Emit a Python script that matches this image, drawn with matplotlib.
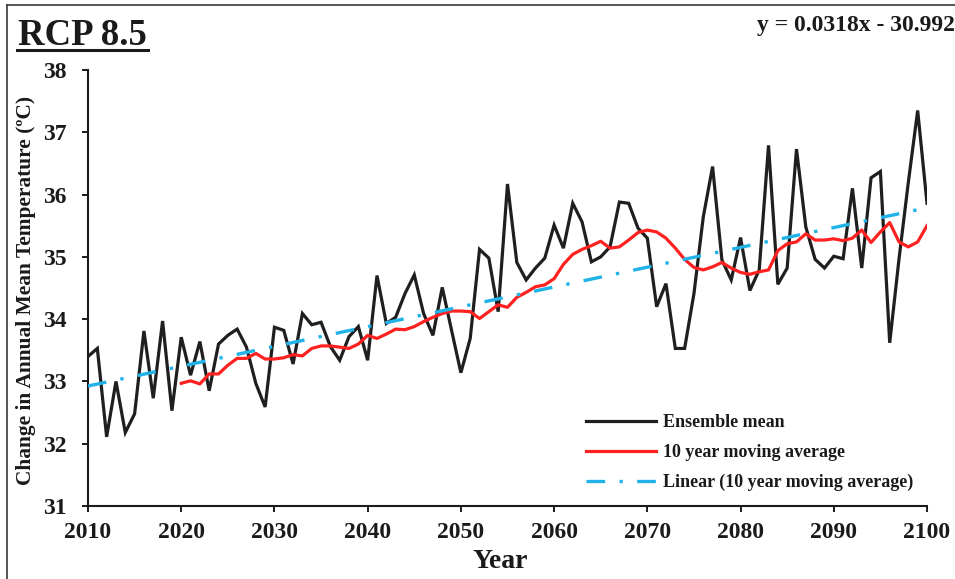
import numpy as np
import matplotlib
matplotlib.use("Agg")
import matplotlib.pyplot as plt
from matplotlib.lines import Line2D

# ---- data -------------------------------------------------------------
years = np.arange(2010, 2101)

ensemble_mean = [
    33.40, 33.53, 32.11, 33.00, 32.18, 32.48, 33.81, 32.73, 33.97, 32.53,
    33.71, 33.10, 33.64, 32.85, 33.60, 33.74, 33.84, 33.55, 32.97, 32.59,
    33.87, 33.82, 33.28, 34.09, 33.91, 33.95, 33.56, 33.34, 33.72, 33.88,
    33.34, 34.70, 33.93, 34.03, 34.41, 34.71, 34.09, 33.74, 34.51, 33.82,
    33.14, 33.69, 35.12, 34.98, 34.12, 36.17, 34.91, 34.63, 34.82, 34.98,
    35.51, 35.14, 35.86, 35.56, 34.92, 35.00, 35.16, 35.88, 35.86, 35.46,
    35.30, 34.20, 34.57, 33.53, 33.53, 34.41, 35.64, 36.45, 34.95, 34.63,
    35.31, 34.46, 34.79, 36.79, 34.56, 34.82, 36.73, 35.48, 34.96, 34.82,
    35.01, 34.97, 36.10, 34.82, 36.27, 36.37, 33.62, 34.97, 36.20, 37.35,
    35.86,
]

ma_years = np.arange(2020, 2101)
moving_avg = [
    32.97, 33.01, 32.96, 33.12, 33.12, 33.26, 33.37, 33.37, 33.45, 33.36,
    33.36, 33.38, 33.43, 33.41, 33.53, 33.57, 33.57, 33.55, 33.53, 33.60,
    33.74, 33.69, 33.76, 33.84, 33.83, 33.88, 33.96, 34.03, 34.09, 34.13,
    34.13, 34.12, 34.01, 34.12, 34.23, 34.19, 34.35, 34.43, 34.52, 34.55,
    34.65, 34.88, 35.04, 35.12, 35.18, 35.25, 35.14, 35.16, 35.27, 35.39,
    35.43, 35.40, 35.30, 35.14, 34.96, 34.83, 34.79, 34.84, 34.91, 34.82,
    34.75, 34.72, 34.76, 34.79, 35.10, 35.21, 35.24, 35.37, 35.27, 35.27,
    35.29, 35.26, 35.30, 35.43, 35.23, 35.40, 35.55, 35.24, 35.16, 35.24,
    35.50,
]

trend_slope = 0.0318
trend_intercept = -30.992

x_ticks = [2010, 2020, 2030, 2040, 2050, 2060, 2070, 2080, 2090, 2100]
y_ticks = [31, 32, 33, 34, 35, 36, 37, 38]

# ---- figure -----------------------------------------------------------
W, H = 955, 579
fig = plt.figure(figsize=(W / 100, H / 100), dpi=100)
serif = ["Liberation Serif", "DejaVu Serif"]
plt.rcParams["font.family"] = serif

ax = fig.add_axes([88 / W, 1 - 506 / H, (927 - 88) / W, (506 - 70) / H])
ax.set_facecolor("none")

ax.plot(years, ensemble_mean, color="#1f1f1f", lw=2.3,
        solid_joinstyle="miter", label="Ensemble mean", zorder=3)
ax.plot(ma_years, moving_avg, color="#ff2020", lw=2.3,
        label="10 year moving average", zorder=4)
trend = trend_slope * years + trend_intercept
ax.plot(years, trend, color="#21b2e8", lw=2.4,
        linestyle=(0, (5.6, 4.3, 1.0, 4.3)),
        label="Linear (10 year moving average)", zorder=5)

ax.set_xlim(2010, 2100)
ax.set_ylim(31, 38)
ax.set_xticks(x_ticks)
ax.set_yticks(y_ticks)

for side in ("top", "right"):
    ax.spines[side].set_visible(False)
for side in ("left", "bottom"):
    ax.spines[side].set_linewidth(1.5)
    ax.spines[side].set_color("#1a1a1a")

ax.tick_params(axis="both", direction="out", length=4.5, width=1.4,
               color="#1a1a1a", labelsize=17, labelcolor="#1a1a1a")
ax.tick_params(axis="y", pad=11)
ax.tick_params(axis="x", pad=7)
for lbl in ax.get_xticklabels() + ax.get_yticklabels():
    lbl.set_fontweight("bold")

# axis titles
fig.text(26 / W, 1 - 290 / H, "Change in Annual Mean Temperature (ºC)",
         rotation=90, ha="center", va="center", fontsize=15.4,
         fontweight="bold", color="#1a1a1a")
fig.text(500 / W, 1 - 561 / H, "Year", ha="center", va="center",
         fontsize=20, fontweight="bold", color="#1a1a1a")

# panel title with underline
fig.text(18 / W, 1 - 45 / H, "RCP 8.5", ha="left", va="baseline",
         fontsize=26.5, fontweight="bold", color="#1a1a1a")
fig.add_artist(Line2D([17 / W, 148 / W], [1 - 50 / H, 1 - 50 / H],
                      transform=fig.transFigure, color="#1a1a1a", lw=2.2))

# trend equation
fig.text(757 / W, 1 - 25 / H, "y = 0.0318x - 30.992", ha="left",
         va="center", fontsize=17, fontweight="bold", color="#1a1a1a")

# chart-area border
fig.add_artist(Line2D([7 / W, 7 / W], [0, 1 - 5 / H],
                      transform=fig.transFigure, color="#3a3a3a", lw=1.2))
fig.add_artist(Line2D([7 / W, 1], [1 - 5 / H, 1 - 5 / H],
                      transform=fig.transFigure, color="#3a3a3a", lw=1.2))

leg = ax.legend(loc="upper left", bbox_to_anchor=(586 / W, 1 - 414 / H),
                bbox_transform=fig.transFigure, frameon=False,
                prop={"family": serif, "weight": "bold", "size": 13},
                handlelength=3.9, handletextpad=0.35, labelspacing=0.72,
                borderpad=0, borderaxespad=0)
for t in leg.get_texts():
    t.set_color("#1a1a1a")

fig.savefig("out.png", dpi=100)
